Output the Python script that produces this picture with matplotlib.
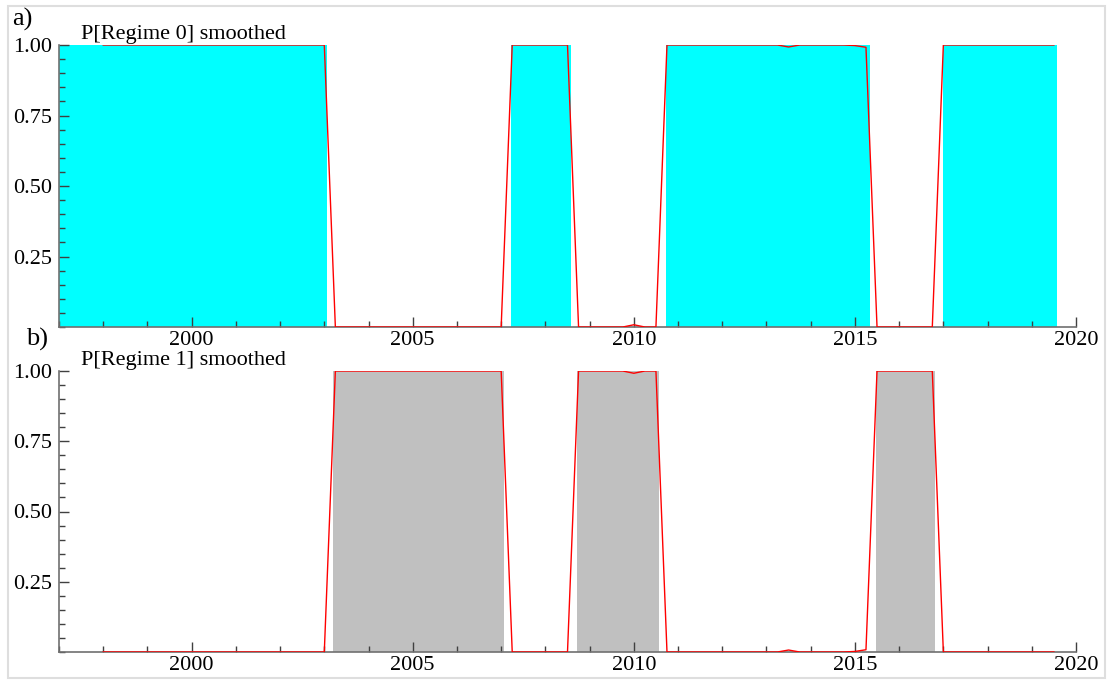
import matplotlib
matplotlib.use("Agg")
import matplotlib.pyplot as plt
from matplotlib.ticker import MultipleLocator, FixedLocator
from matplotlib.patches import Rectangle

# Données trimestrielles 1998Q1 - 2019Q3 (probabilité lissée du régime 0)
annees = [1998 + 0.25 * i for i in range(87)]
p_regime0 = [
    1, 1, 1, 1,  1, 1, 1, 1,  1, 1, 1, 1,  1, 1, 1, 1,  1, 1, 1, 1,   # 1998-2002
    1, 0, 0, 0,                                                      # 2003
    0, 0, 0, 0,  0, 0, 0, 0,  0, 0, 0, 0,                            # 2004-2006
    0, 1, 1, 1,                                                      # 2007
    1, 1, 1, 0,                                                      # 2008
    0, 0, 0, 0,                                                      # 2009
    0.008, 0, 0, 1,                                                  # 2010
    1, 1, 1, 1,  1, 1, 1, 1,                                         # 2011-2012
    1, 1, 0.993, 1,                                                  # 2013
    1, 1, 1, 1,                                                      # 2014
    0.998, 0.992, 0, 0,                                              # 2015
    0, 0, 0, 0,                                                      # 2016
    1, 1, 1, 1,  1, 1, 1, 1,                                         # 2017-2018
    1, 1, 1,                                                         # 2019
]
p_regime1 = [1 - p for p in p_regime0]

# Périodes ombrées (classification des régimes)
zones_regime0 = [(1997.0, 2003.05), (2007.22, 2008.58), (2010.72, 2015.35), (2017.0, 2019.58)]
zones_regime1 = [(2003.2, 2007.06), (2008.72, 2010.56), (2015.47, 2016.82)]

plt.rcParams["font.family"] = ["Liberation Serif", "DejaVu Serif"]

fig = plt.figure(figsize=(11.11, 6.82), dpi=100)

# cadre gris clair autour de l'image
fig.patches.append(Rectangle((8 / 1111, 1 - 678 / 682), 1097 / 1111, 672 / 682,
                             transform=fig.transFigure, fill=False,
                             edgecolor="#dedede", linewidth=1.5))

panneaux = [
    ([0.0531, 0.5205, 0.9154, 0.4135], p_regime0, zones_regime0, "#00ffff",
     "P[Regime 0] smoothed", 35, "a)", (12, 19)),
    ([0.0531, 0.0440, 0.9154, 0.4120], p_regime1, zones_regime1, "#c0c0c0",
     "P[Regime 1] smoothed", 361, "b)", (26, 339)),
]

for pos, proba, zones, couleur, titre, ty, lettre, (lx, ly) in panneaux:
    ax = fig.add_axes(pos)
    for debut, fin in zones:
        ax.axvspan(debut, fin, color=couleur, lw=0, zorder=1)
    ax.plot(annees, proba, color="red", lw=1.0, zorder=3)

    ax.set_xlim(1997, 2020)
    ax.set_ylim(0, 1)
    ax.set_xticks([2000, 2005, 2010, 2015, 2020])
    ax.xaxis.set_minor_locator(MultipleLocator(1))
    ax.yaxis.set_major_locator(FixedLocator([0.25, 0.5, 0.75, 1.0]))
    ax.yaxis.set_minor_locator(MultipleLocator(0.05))
    ax.set_yticklabels(["0.25", "0.50", "0.75", "1.00"])

    for s in ["top", "right"]:
        ax.spines[s].set_visible(False)
    for s in ["left", "bottom"]:
        ax.spines[s].set_color("#707070")
        ax.spines[s].set_linewidth(1.2)
        ax.spines[s].set_zorder(2)

    ax.tick_params(which="major", direction="in", length=7, width=1, color="#404040",
                   labelsize=16, pad=5)
    ax.tick_params(which="minor", direction="in", length=4, width=1, color="#404040")
    ax.tick_params(axis="x", pad=3)

    fig.text(81 / 1111, 1 - ty / 682, titre, fontsize=16, va="center", ha="left")
    fig.text(lx / 1111, 1 - ly / 682, lettre, fontsize=19, va="center", ha="left")

fig.savefig("out.png", dpi=100)
